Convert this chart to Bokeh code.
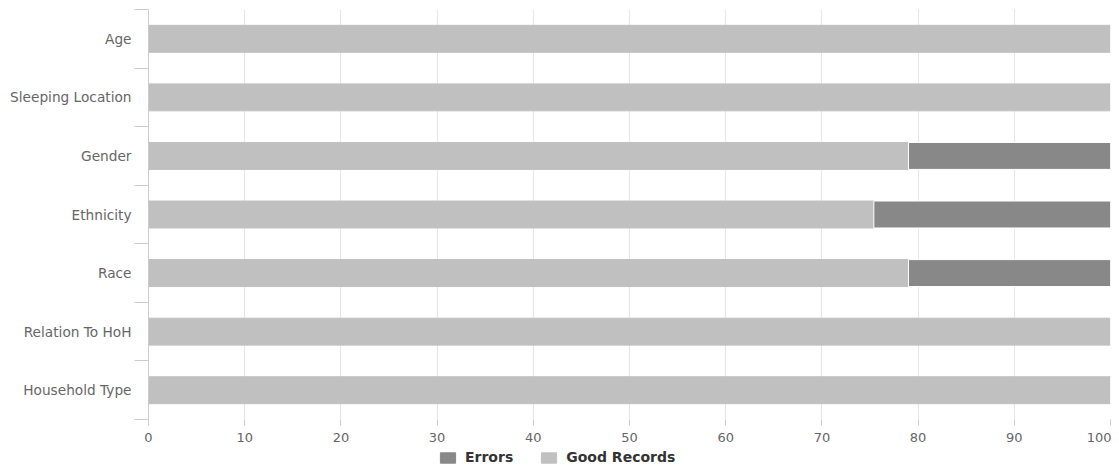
from bokeh.plotting import figure
from bokeh.models import FixedTicker, Legend, LegendItem, ColumnDataSource
from bokeh.layouts import column
from bokeh.embed import file_html
from bokeh.resources import INLINE

categories = ["Age", "Sleeping Location", "Gender", "Ethnicity", "Race", "Relation To HoH", "Household Type"]
good_records = [100, 100, 79, 75.4, 79, 100, 100]
errors = [0, 0, 21, 24.6, 21, 0, 0]
x_ticks = [0, 10, 20, 30, 40, 50, 60, 70, 80, 90, 100]
series_names = ["Errors", "Good Records"]
series_colors = ["#888888", "#c0c0c0"]

n = len(categories)
ypos = [n - i - 0.5 for i in range(n)]
src = ColumnDataSource(dict(
    y=ypos, good=good_records,
    err_left=good_records,
    err_right=[g + e for g, e in zip(good_records, errors)],
))

FONT = "DejaVu Sans"
p = figure(width=1111, height=446, output_backend="svg", toolbar_location=None,
           x_range=(0, 100), y_range=(0, n),
           min_border_left=148, min_border_right=1, min_border_top=9, min_border_bottom=27)
p.outline_line_color = None

p.hbar(y="y", left=0, right="good", height=0.46, source=src,
       fill_color=series_colors[1], line_color=series_colors[1])
p.hbar(y="y", left="err_left", right="err_right", height=0.46, source=src,
       fill_color=series_colors[0], line_color="#ffffff", line_width=1)

# x axis
p.xaxis.ticker = FixedTicker(ticks=x_ticks)
p.xaxis.axis_line_color = None
p.xaxis.major_tick_line_color = "#cccccc"
p.xaxis.major_tick_out = 6
p.xaxis.major_tick_in = 0
p.xaxis.minor_tick_line_color = None
p.xaxis.major_label_text_font = FONT
p.xaxis.major_label_text_font_size = "13px"
p.xaxis.major_label_text_color = "#666666"
p.xaxis.major_label_standoff = 7

# y axis
p.yaxis.ticker = FixedTicker(ticks=ypos, minor_ticks=list(range(n + 1)))
p.yaxis.major_label_overrides = {y: c for y, c in zip(ypos, categories)}
p.yaxis.axis_line_color = "#cccccc"
p.yaxis.major_tick_line_color = None
p.yaxis.major_tick_out = 0
p.yaxis.major_tick_in = 0
p.yaxis.minor_tick_line_color = "#cccccc"
p.yaxis.minor_tick_out = 14
p.yaxis.minor_tick_in = 0
p.yaxis.major_label_text_font = FONT
p.yaxis.major_label_text_font_size = "13.7px"
p.yaxis.major_label_text_color = "#666666"
p.yaxis.major_label_standoff = 3

p.xgrid.ticker = FixedTicker(ticks=x_ticks)
p.xgrid.grid_line_color = "#e6e6e6"
p.ygrid.grid_line_color = None

# legend strip below the chart (its bars fall outside this strip's y range);
# the column aligns this strip's frame with the chart's frame
q = figure(width=1111, height=24, output_backend="svg", toolbar_location=None,
           x_axis_type=None, y_axis_type=None, x_range=(0, 100), y_range=(100, 101),
           min_border=0)
q.outline_line_color = None
q.xgrid.visible = False
q.ygrid.visible = False
r_err = q.hbar(y="y", left="err_left", right="err_right", height=0.46, source=src,
               fill_color=series_colors[0], line_color=series_colors[0])
r_good = q.hbar(y="y", left=0, right="good", height=0.46, source=src,
                fill_color=series_colors[1], line_color=series_colors[1])
legend = Legend(items=[LegendItem(label=series_names[0], renderers=[r_err]),
                       LegendItem(label=series_names[1], renderers=[r_good])],
                orientation="horizontal", location=(290, 5),
                border_line_color=None, background_fill_alpha=0,
                label_text_font=FONT, label_text_font_size="14px",
                label_text_font_style="bold", label_text_color="#333333",
                glyph_width=19, glyph_height=13, spacing=26, padding=0, margin=0,
                label_standoff=8, label_height=13)
q.add_layout(legend)

open("out.html", "w").write(file_html(column(p, q, spacing=0), INLINE))
